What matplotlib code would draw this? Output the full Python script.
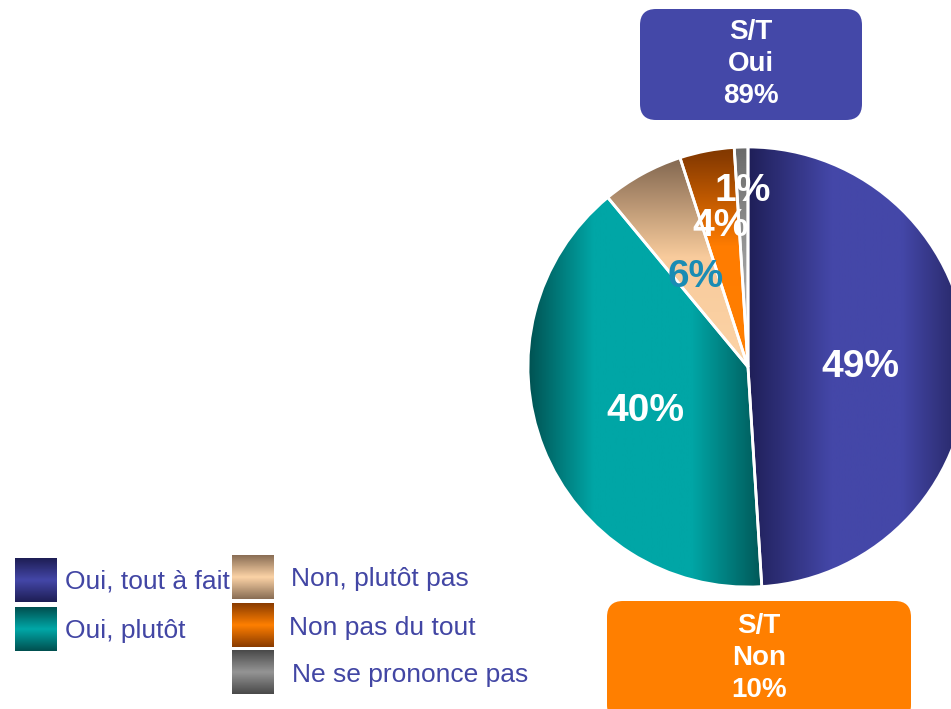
import numpy as np
import matplotlib
matplotlib.use("Agg")
import matplotlib.pyplot as plt
from matplotlib.colors import LinearSegmentedColormap
from matplotlib.patches import FancyBboxPatch

plt.rcParams['font.family'] = ['Liberation Sans', 'DejaVu Sans']

# data
labels = ["Oui, tout à fait", "Oui, plutôt", "Non, plutôt pas", "Non pas du tout", "Ne se prononce pas"]
values = [49, 40, 6, 4, 1]
label_colors = ["white", "white", "#1a8cb4", "white", "white"]
label_dist = [0.51, 0.5, 0.49, 0.67, 0.82]
summary_titles = ["S/T\nOui", "S/T\nNon"]
summary_values = [89, 10]

# gradient stops per slice: (direction, stops)
grads = [
    ("h", [(0, "#1f1f58"), (0.38, "#4447a8"), (0.7, "#4447a8"), (1, "#24245f")]),
    ("h", [(0, "#005252"), (0.28, "#00a6a6"), (0.7, "#00a6a6"), (1, "#005858")]),
    ("v", [(0, "#fcd3a6"), (0.5, "#f8cb9c"), (0.92, "#8a6e55"), (1, "#7e6450")]),
    ("v", [(0, "#ff7f00"), (0.55, "#ff7c00"), (0.95, "#8a3c00"), (1, "#803800")]),
    ("v", [(0, "#bdbdbd"), (0.5, "#9a9a9a"), (1, "#6a6a6a")]),
]
legend_grads = [
    [(0, "#1e1e55"), (0.5, "#4447a8"), (1, "#1e1e55")],
    [(0, "#005050"), (0.5, "#00a8a8"), (1, "#005050")],
    [(0, "#8a6e55"), (0.5, "#fcd3a6"), (1, "#8a6e55")],
    [(0, "#8a3c00"), (0.5, "#ff7f00"), (1, "#8a3c00")],
    [(0, "#4a4a4a"), (0.5, "#959595"), (1, "#4a4a4a")],
]

fig = plt.figure(figsize=(9.51, 7.09), dpi=100)
ax = fig.add_axes([0, 0, 1, 1])

cx, cy, r = 748, 342, 220
wedges, _ = ax.pie(values, center=(cx, cy), radius=r, startangle=90, counterclock=False,
                   frame=True, wedgeprops=dict(edgecolor="white", linewidth=2, facecolor="none"))

for w, (d, stops), v, col, dist in zip(wedges, grads, values, label_colors, label_dist):
    w.set_zorder(2)
    cmap = LinearSegmentedColormap.from_list("g", stops)
    g = np.linspace(0, 1, 256)
    if d == "h":
        # gradient across the horizontal extent of the slice
        th = np.radians(np.linspace(w.theta1, w.theta2, 200))
        xs = np.concatenate([[cx], cx + r * np.cos(th)])
        img = ax.imshow(g[None, :], cmap=cmap, aspect="auto", zorder=1,
                        extent=(xs.min(), xs.max(), cy - r, cy + r))
    else:
        img = ax.imshow(g[::-1, None], cmap=cmap, aspect="auto", zorder=1,
                        extent=(cx - r, cx + r, cy, cy + r))
    img.set_clip_path(w)
    mid = np.radians((w.theta1 + w.theta2) / 2)
    ax.text(cx + dist * r * np.cos(mid), cy + dist * r * np.sin(mid) - 4, f"{v}%",
            color=col, fontsize=28, fontweight="bold", ha="center", va="center", zorder=5)

# summary boxes
boxes = [((640, 589), 222, 111, "#4448a8", 645), ((607, -12), 304, 120, "#ff7f00", 51)]
for (xy, bw, bh, fc, ty), title, val in zip(boxes, summary_titles, summary_values):
    ax.add_patch(FancyBboxPatch(xy, bw, bh, boxstyle="round,pad=0,rounding_size=16",
                                fc=fc, ec="none", zorder=3))
    ax.text(xy[0] + bw / 2, ty, f"{title}\n{val}%", color="white", fontsize=20,
            fontweight="bold", ha="center", va="center", linespacing=1.28, zorder=4)

# legend drawn by hand
leg_pos = [(15, 129), (15, 80), (232, 132), (232, 84), (232, 37)]
text_pos = [(65, 128), (65, 78), (291, 130), (289, 81), (292, 34)]
for lbl, stops, (sx, sy), (tx, tyy) in zip(labels, legend_grads, leg_pos, text_pos):
    cmap = LinearSegmentedColormap.from_list("l", stops)
    ax.imshow(np.linspace(0, 1, 64)[:, None], cmap=cmap, aspect="auto", zorder=3,
              extent=(sx, sx + 42, sy - 22, sy + 22))
    ax.text(tx, tyy, lbl, color="#4246a4", fontsize=19, ha="left", va="center", zorder=4)

ax.set_xlim(0, 951)
ax.set_ylim(0, 709)
ax.set_aspect("auto")
ax.axis("off")

fig.savefig("out.png", dpi=100)
